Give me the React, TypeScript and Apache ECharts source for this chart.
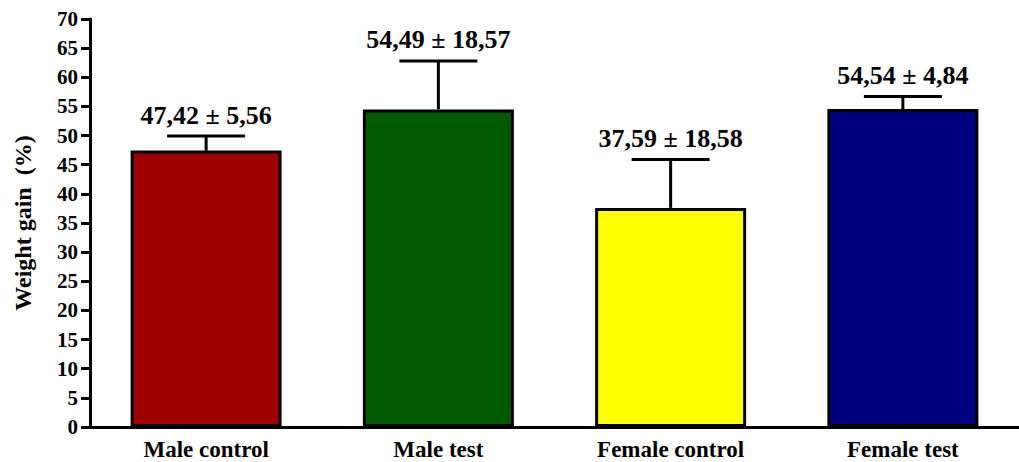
import React, { useEffect, useRef } from "react";
import * as echarts from "echarts";

// Groups, mean weight gain (%), standard deviation and group size
const groups = ["Male control", "Male test", "Female control", "Female test"];
const means = [47.42, 54.49, 37.59, 54.54];
const sds = [5.56, 18.57, 18.58, 4.84];
const groupSize = 5;
const barColors = ["#9E0000", "#005A00", "#FFFF00", "#000080"];
const yTicks = { min: 0, max: 70, interval: 5 };

const FONT = "'Liberation Serif', 'Times New Roman', serif";

const fmt = (v: number) => v.toFixed(2).replace(".", ",");

export default function App() {
  const ref = useRef<HTMLDivElement>(null);

  useEffect(() => {
    document.body.style.margin = "0";
    const chart = echarts.init(ref.current!, undefined, { renderer: "svg" });

    // error bars show the standard error of the mean
    const sems = sds.map((sd) => sd / Math.sqrt(groupSize));

    chart.setOption({
      animation: false,
      backgroundColor: "#ffffff",
      grid: { left: 90, top: 19, width: 936, height: 408, containLabel: false },
      xAxis: {
        type: "category",
        data: groups,
        axisLine: { lineStyle: { color: "#000", width: 3 } },
        axisTick: { alignWithLabel: true, interval: 0, length: 6, lineStyle: { color: "#000", width: 3 } },
        axisLabel: {
          interval: 0,
          margin: 11,
          color: "#000",
          fontFamily: FONT,
          fontWeight: "bold",
          fontSize: 23,
        },
        splitLine: { show: false },
      },
      yAxis: {
        type: "value",
        min: yTicks.min,
        max: yTicks.max,
        interval: yTicks.interval,
        name: "Weight gain  (%)",
        nameLocation: "middle",
        nameRotate: 90,
        nameGap: 55,
        nameTextStyle: { color: "#000", fontFamily: FONT, fontWeight: "bold", fontSize: 24 },
        axisLine: { show: true, lineStyle: { color: "#000", width: 3 } },
        axisTick: { show: true, length: 9, lineStyle: { color: "#000", width: 3 } },
        axisLabel: {
          margin: 12,
          color: "#000",
          fontFamily: FONT,
          fontWeight: "bold",
          fontSize: 21,
        },
        splitLine: { show: false },
      },
      series: [
        {
          type: "bar",
          barWidth: 151,
          data: means.map((m, i) => ({
            value: m,
            itemStyle: { color: barColors[i], borderColor: "#000", borderWidth: 3 },
          })),
          z: 2,
        },
        {
          type: "custom",
          z: 1,
          data: means.map((m, i) => [i, m, sems[i], sds[i]]),
          renderItem: (params: any, api: any) => {
            const i = api.value(0);
            const mean = api.value(1);
            const err = api.value(2);
            const sd = api.value(3);
            const base = api.coord([i, mean]);
            const top = api.coord([i, mean + err]);
            const half = 39;
            const lineStyle = { stroke: "#000", lineWidth: 3 };
            return {
              type: "group",
              children: [
                { type: "line", shape: { x1: top[0], y1: base[1], x2: top[0], y2: top[1] }, style: lineStyle },
                { type: "line", shape: { x1: top[0] - half, y1: top[1], x2: top[0] + half, y2: top[1] }, style: lineStyle },
                {
                  type: "text",
                  x: top[0],
                  y: top[1] - 8,
                  style: {
                    text: `${fmt(mean)} ± ${fmt(sd)}`,
                    fill: "#000",
                    font: `bold 26px ${FONT}`,
                    textAlign: "center",
                    textVerticalAlign: "bottom",
                  },
                },
              ],
            };
          },
        },
      ],
    });

    return () => chart.dispose();
  }, []);

  return <div ref={ref} style={{ width: 1019, height: 462 }} />;
}
